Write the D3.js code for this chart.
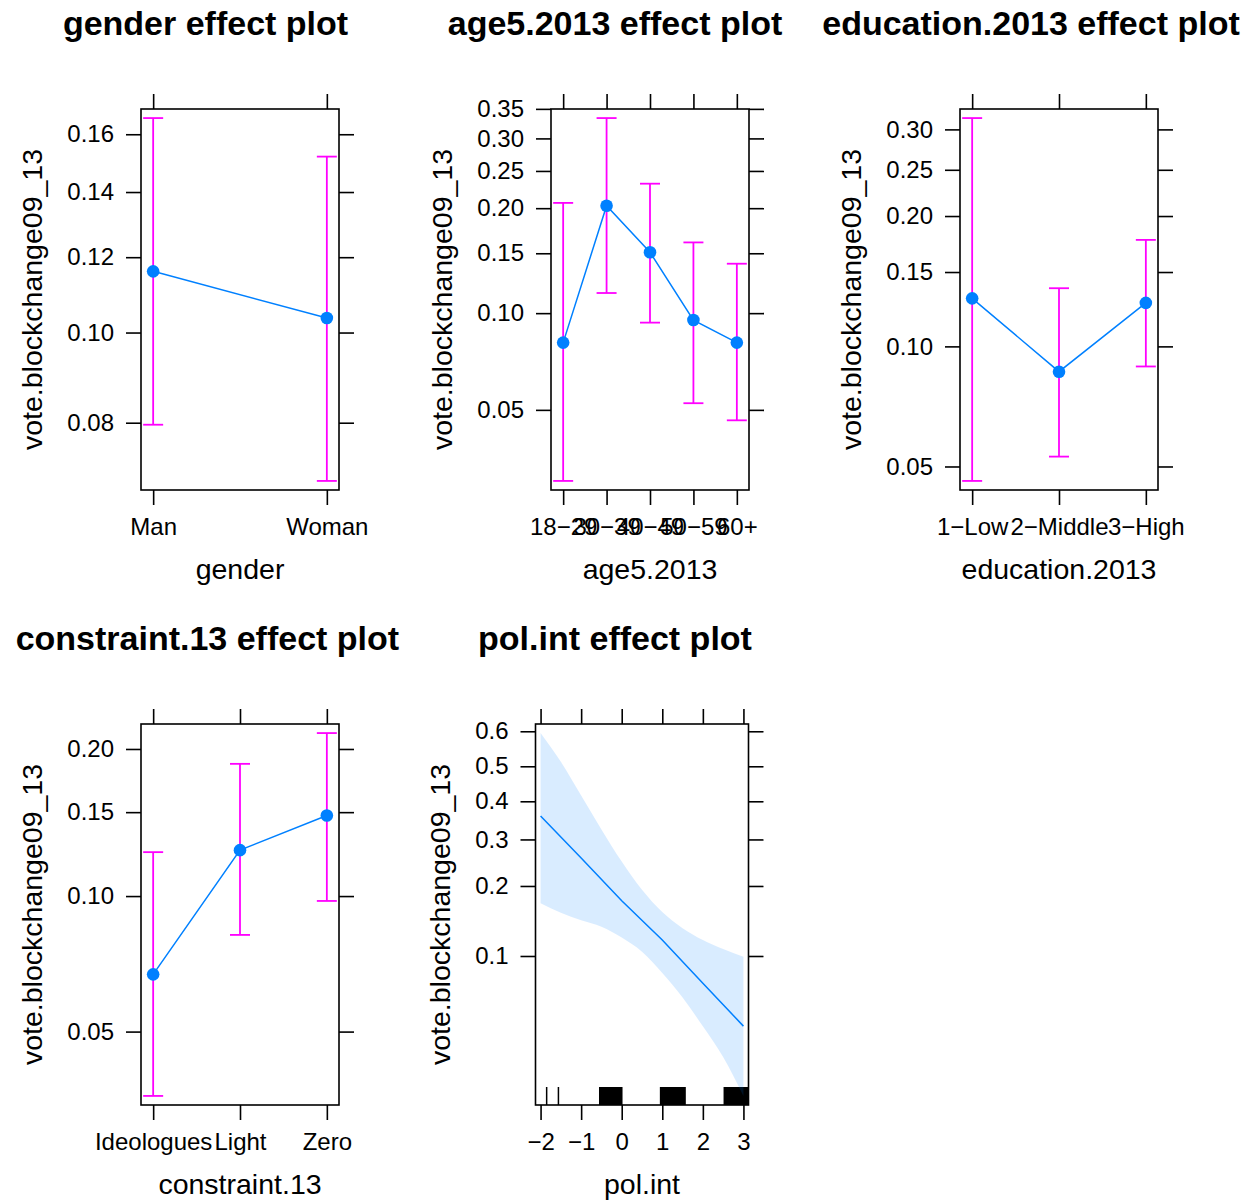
<!DOCTYPE html>
<html>
<head>
<meta charset="utf-8">
<script src="https://cdn.jsdelivr.net/npm/d3@7"></script>
<style>
  body { margin: 0; background: #fff; }
  svg { display: block; font-family: "Liberation Sans", Arial, sans-serif; }
</style>
</head>
<body>
<svg id="chart" width="1246" height="1202"></svg>
<script>
// values (probability scale)
const genderCats = ["Man", "Woman"];
const genderFit = [0.116, 0.1036];
const genderLower = [0.0796, 0.0691];
const genderUpper = [0.166, 0.152];
const genderTicks = [0.08, 0.10, 0.12, 0.14, 0.16];

const ageCats = ["18−29", "30−39", "40−49", "50−59", "60+"];
const ageFit = [0.0813, 0.203, 0.151, 0.0953, 0.0813];
const ageLower = [0.0295, 0.1149, 0.0936, 0.0525, 0.0463];
const ageUpper = [0.2066, 0.334, 0.232, 0.161, 0.140];
const ageTicks = [0.05, 0.10, 0.15, 0.20, 0.25, 0.30, 0.35];

const eduCats = ["1−Low", "2−Middle", "3−High"];
const eduFit = [0.1303, 0.0867, 0.1271];
const eduLower = [0.0459, 0.0530, 0.0893];
const eduUpper = [0.315, 0.1376, 0.1773];
const eduTicks = [0.05, 0.10, 0.15, 0.20, 0.25, 0.30];

const constraintCats = ["Ideologues", "Light", "Zero"];
const constraintFit = [0.0673, 0.1252, 0.1477];
const constraintLower = [0.0356, 0.0823, 0.0976];
const constraintUpper = [0.124, 0.1872, 0.2144];
const constraintTicks = [0.05, 0.10, 0.15, 0.20];

// pol.int: fitted line and confidence band
const polFitX = [-2, -1, 0, 1, 2, 3];
const polFit = [0.360, 0.257, 0.174, 0.118, 0.075, 0.047];
const polBandX = [-2, -1.5, -1, -0.5, 0, 0.5, 1, 1.5, 2, 2.5, 3];
const polUpper = [0.595, 0.513, 0.416, 0.325, 0.249, 0.193, 0.156, 0.133, 0.118, 0.1076, 0.0993];
const polLower = [0.170, 0.155, 0.144, 0.135, 0.121, 0.1046, 0.0836, 0.0643, 0.0469, 0.0333, 0.0215];
const polYTicks = [0.1, 0.2, 0.3, 0.4, 0.5, 0.6];
const polXTicks = [-2, -1, 0, 1, 2, 3];
const polRug = [-1.85, -1.56];
const polRugBlocks = [[-0.56, 0.02], [0.94, 1.58], [2.51, 3.12]];

const yTitle = "vote.blockchange09_13";
const lineCol = "#0080ff", barCol = "#ff00ff";

const svg = d3.select("#chart");
const logit = p => Math.log(p / (1 - p));
const expit = v => 1 / (1 + Math.exp(-v));

function styleAxis(g, size) {
  g.select(".domain").remove();
  g.selectAll("line").attr("stroke", "#000").attr("stroke-width", 1.6);
  g.selectAll("text").attr("fill", "#000").style("font-size", size + "px")
    .style("font-family", '"Liberation Sans", Arial, sans-serif');
}

// frame, four-sided ticks, labels and titles shared by every panel
function frame(g, box, x, y, yTicks, yFmt, xTicks, xFmt, title, titleX, xlab) {
  const top = d3.axisTop(x).tickSize(15).tickFormat("");
  const bottom = d3.axisBottom(x).tickSize(15).tickPadding(13);
  if (xTicks) { top.tickValues(xTicks); bottom.tickValues(xTicks); }
  if (xFmt) bottom.tickFormat(xFmt);
  g.append("g").attr("transform", `translate(0,${box.y0})`).call(top).call(styleAxis, 24);
  g.append("g").attr("transform", `translate(0,${box.y1})`).call(bottom).call(styleAxis, 24);

  const yv = yTicks.map(logit);
  const left = g.append("g").attr("transform", `translate(${box.x0},0)`)
    .call(d3.axisLeft(y).tickValues(yv).tickSize(15).tickPadding(12)
      .tickFormat(d => yFmt(expit(d))))
    .call(styleAxis, 24);
  g.append("g").attr("transform", `translate(${box.x1},0)`)
    .call(d3.axisRight(y).tickValues(yv).tickSize(15).tickFormat(""))
    .call(styleAxis, 24);

  g.append("rect")
    .attr("x", box.x0).attr("y", box.y0)
    .attr("width", box.x1 - box.x0).attr("height", box.y1 - box.y0)
    .attr("fill", "none").attr("stroke", "#000").attr("stroke-width", 1.6);

  // bbox is in the axis group's own coordinates
  const lb = left.node().getBBox();
  const cy = (box.y0 + box.y1) / 2;
  g.append("text")
    .attr("transform", `translate(${box.x0 + lb.x - 25},${cy}) rotate(-90)`)
    .attr("text-anchor", "middle").style("font-size", "28.5px")
    .text(yTitle);

  g.append("text")
    .attr("x", (box.x0 + box.x1) / 2).attr("y", box.y1 + 89)
    .attr("text-anchor", "middle").style("font-size", "28.5px")
    .text(xlab);

  g.append("text")
    .attr("x", titleX).attr("y", box.y0 - 74)
    .attr("text-anchor", "middle").style("font-size", "34px").style("font-weight", "bold")
    .text(title);
}

function yScale(lower, upper, box) {
  const lo = d3.min(lower, logit), hi = d3.max(upper, logit);
  const pad = (hi - lo) * 0.025;
  return d3.scaleLinear().domain([lo - pad, hi + pad]).range([box.y1, box.y0]);
}

function factorPanel(p) {
  const g = svg.append("g");
  const n = p.cats.length;
  const x = d3.scalePoint().domain(p.cats).range([p.box.x0, p.box.x1]).padding(0.07 * (n - 1));
  const y = yScale(p.lower, p.upper, p.box);
  const yp = v => y(logit(v));

  frame(g, p.box, x, y, p.ticks, d3.format(".2f"), null, null, p.title, p.titleX, p.xlab);

  const rows = p.cats.map((c, i) => ({ c, fit: p.fit[i], lo: p.lower[i], hi: p.upper[i] }));
  const bars = g.append("g").attr("stroke", barCol).attr("stroke-width", 1.8);
  bars.selectAll(".v").data(rows).join("line")
    .attr("x1", d => x(d.c)).attr("x2", d => x(d.c))
    .attr("y1", d => yp(d.lo)).attr("y2", d => yp(d.hi));
  bars.selectAll(".cap").data(rows.flatMap(d => [[d.c, d.lo], [d.c, d.hi]])).join("line")
    .attr("x1", d => x(d[0]) - 10).attr("x2", d => x(d[0]) + 10)
    .attr("y1", d => yp(d[1])).attr("y2", d => yp(d[1]));

  g.append("path").datum(rows)
    .attr("fill", "none").attr("stroke", lineCol).attr("stroke-width", 1.5)
    .attr("d", d3.line().x(d => x(d.c)).y(d => yp(d.fit)));
  g.selectAll("circle").data(rows).join("circle")
    .attr("cx", d => x(d.c)).attr("cy", d => yp(d.fit)).attr("r", 6.3)
    .attr("fill", lineCol);
}

factorPanel({ box: { x0: 141, x1: 339, y0: 109, y1: 490 }, cats: genderCats, fit: genderFit,
  lower: genderLower, upper: genderUpper, ticks: genderTicks,
  title: "gender effect plot", titleX: 205.5, xlab: "gender" });
factorPanel({ box: { x0: 551, x1: 749, y0: 109, y1: 490 }, cats: ageCats, fit: ageFit,
  lower: ageLower, upper: ageUpper, ticks: ageTicks,
  title: "age5.2013 effect plot", titleX: 615, xlab: "age5.2013" });
factorPanel({ box: { x0: 960, x1: 1158, y0: 109, y1: 490 }, cats: eduCats, fit: eduFit,
  lower: eduLower, upper: eduUpper, ticks: eduTicks,
  title: "education.2013 effect plot", titleX: 1031, xlab: "education.2013" });
factorPanel({ box: { x0: 141, x1: 339, y0: 724, y1: 1105 }, cats: constraintCats, fit: constraintFit,
  lower: constraintLower, upper: constraintUpper, ticks: constraintTicks,
  title: "constraint.13 effect plot", titleX: 207.4, xlab: "constraint.13" });

// numeric predictor panel
(function () {
  const box = { x0: 535.5, x1: 748.5, y0: 724, y1: 1105 };
  const g = svg.append("g");
  const [xa, xb] = d3.extent(polBandX);
  const xp = (xb - xa) * 0.025;
  const x = d3.scaleLinear().domain([xa - xp, xb + xp]).range([box.x0, box.x1]);
  const y = yScale(polLower, polUpper, box);
  const yp = v => y(logit(v));

  // rug along the bottom
  g.selectAll(".rug").data(polRug).join("line")
    .attr("x1", d => x(d)).attr("x2", d => x(d))
    .attr("y1", box.y1).attr("y2", box.y1 - 18)
    .attr("stroke", "#000").attr("stroke-width", 1.5);
  g.selectAll(".rugb").data(polRugBlocks).join("rect")
    .attr("x", d => x(d[0])).attr("width", d => Math.min(x(d[1]), box.x1) - x(d[0]))
    .attr("y", box.y1 - 18).attr("height", 18).attr("fill", "#000");

  const band = polBandX.map((v, i) => ({ v, lo: polLower[i], hi: polUpper[i] }));
  g.append("path").datum(band)
    .attr("fill", lineCol).attr("fill-opacity", 0.15)
    .attr("d", d3.area().curve(d3.curveMonotoneX)
      .x(d => x(d.v)).y0(d => yp(d.lo)).y1(d => yp(d.hi)));

  g.append("path").datum(polFitX.map((v, i) => [v, polFit[i]]))
    .attr("fill", "none").attr("stroke", lineCol).attr("stroke-width", 1.5)
    .attr("d", d3.line().x(d => x(d[0])).y(d => yp(d[1])));

  frame(g, box, x, y, polYTicks, d3.format(".1f"), polXTicks, d3.format("d"),
    "pol.int effect plot", 615, "pol.int");
})();
</script>
</body>
</html>
